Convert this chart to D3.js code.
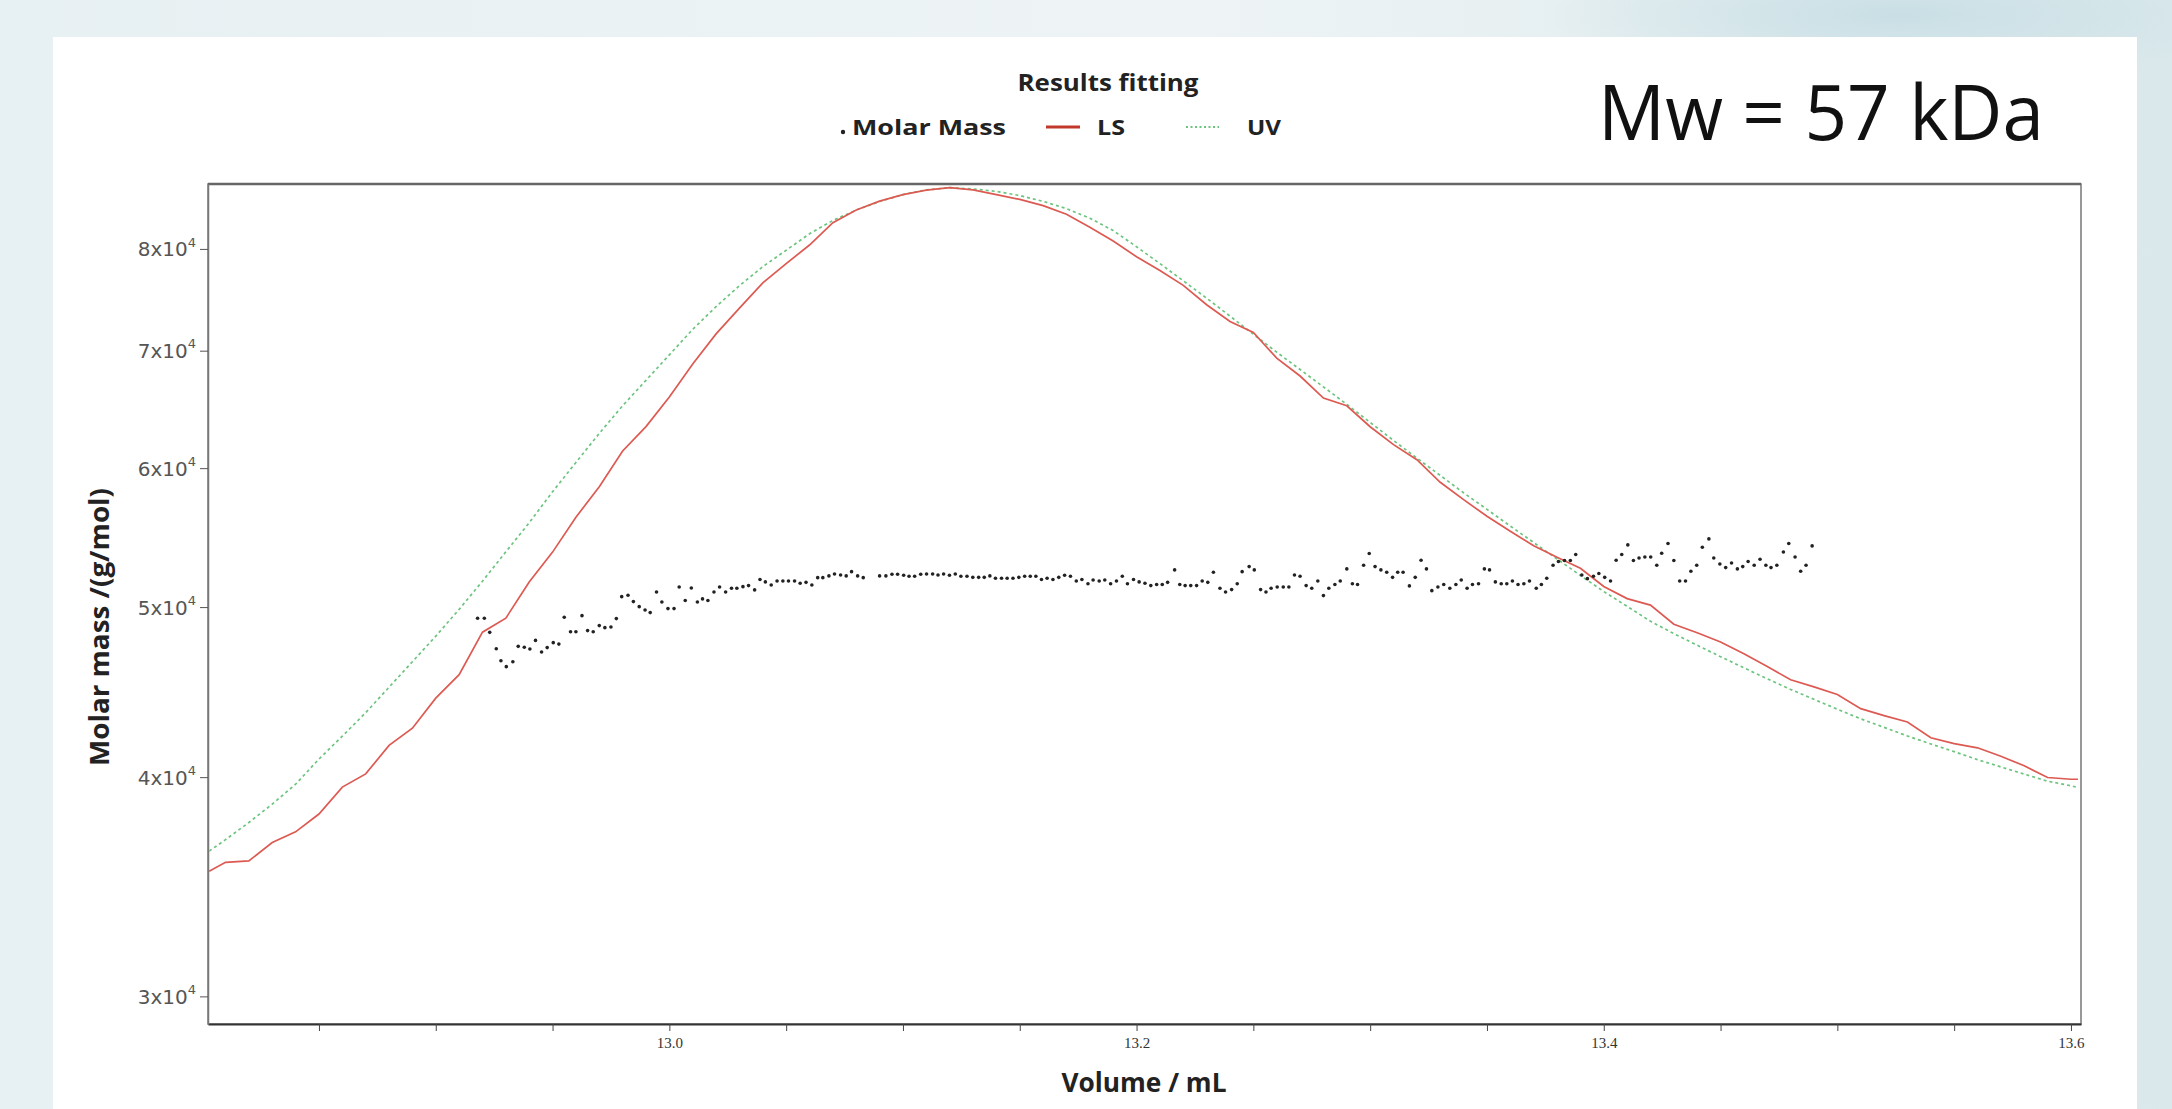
<!DOCTYPE html>
<html>
<head>
<meta charset="utf-8">
<script src="https://cdn.jsdelivr.net/npm/d3@7"></script>
<style>
  body { margin: 0; overflow: hidden; background: #fff; }
</style>
</head>
<body>
<svg id="chart" width="2172" height="1109"></svg>
<script>
// ---- data ----
const curveVolume = [12.803, 12.81, 12.82, 12.83, 12.84, 12.85, 12.86, 12.87, 12.88, 12.89,
  12.90, 12.91, 12.92, 12.93, 12.94, 12.95, 12.96, 12.97, 12.98, 12.99,
  13.00, 13.01, 13.02, 13.03, 13.04, 13.05, 13.06, 13.07, 13.08, 13.09,
  13.10, 13.11, 13.12, 13.13, 13.14, 13.15, 13.16, 13.17, 13.18, 13.19,
  13.20, 13.21, 13.22, 13.23, 13.24, 13.25, 13.26, 13.27, 13.28, 13.29,
  13.30, 13.31, 13.32, 13.33, 13.34, 13.35, 13.36, 13.37, 13.38, 13.39,
  13.40, 13.41, 13.42, 13.43, 13.44, 13.45, 13.46, 13.47, 13.48, 13.49,
  13.50, 13.51, 13.52, 13.53, 13.54, 13.55, 13.56, 13.57, 13.58, 13.59,
  13.60, 13.603];

const lsSignal = [35350, 35770, 35840, 36710, 37230, 38110, 39480, 40170, 41700, 42650,
  44370, 45760, 48380, 49280, 51670, 53740, 56260, 58550, 61370, 63360,
  65880, 68790, 71560, 74020, 76510, 78470, 80410, 82800, 84190, 85180,
  85910, 86410, 86700, 86450, 85910, 85370, 84680, 83720, 82300, 80840,
  79180, 77770, 76260, 74350, 72740, 71690, 69320, 67710, 65780, 65120,
  63350, 61880, 60670, 58900, 57570, 56330, 55230, 54190, 53380, 52610,
  51370, 50560, 50130, 48890, 48340, 47760, 47030, 46250, 45450, 45030,
  44580, 43760, 43360, 43000, 42120, 41800, 41570, 41110, 40600, 39980,
  39890, 39890];

const uvSignal = [36300, 36850, 37690, 38610, 39630, 40960, 42210, 43530, 45010, 46540,
  48130, 49850, 51730, 53760, 55850, 58170, 60450, 62800, 65120, 67330,
  69620, 71990, 74170, 76230, 78160, 79860, 81600, 83040, 84190, 85130,
  85910, 86450, 86690, 86550, 86270, 85800, 85150, 84340, 83290, 81950,
  80230, 78480, 76720, 74990, 73250, 71530, 69860, 68290, 66750, 65240,
  63710, 62220, 60800, 59430, 58090, 56840, 55610, 54420, 53260, 52120,
  51030, 50050, 49080, 48290, 47560, 46850, 46170, 45510, 44880, 44300,
  43730, 43180, 42700, 42220, 41780, 41360, 40930, 40540, 40160, 39790,
  39550, 39460];

const massVolume = [12.9179, 12.9208, 12.9231, 12.9259, 12.9279, 12.9302, 12.9330, 12.9353, 12.9379, 12.9403,
  12.9427, 12.9453, 12.9477, 12.9503, 12.9527, 12.9550, 12.9577, 12.9600, 12.9626, 12.9650,
  12.9674, 12.9700, 12.9724, 12.9750, 12.9773, 12.9796, 12.9823, 12.9846, 12.9871, 12.9896,
  12.9918, 12.9945, 12.9968, 12.9994, 13.0020, 13.0042, 13.0068, 13.0094, 13.0120, 13.0142,
  13.0165, 13.0191, 13.0215, 13.0241, 13.0266, 13.0289, 13.0315, 13.0339, 13.0365, 13.0388,
  13.0411, 13.0436, 13.0461, 13.0486, 13.0510, 13.0536, 13.0560, 13.0585, 13.0610, 13.0635,
  13.0657, 13.0683, 13.0707, 13.0733, 13.0757, 13.0780, 13.0806, 13.0830, 13.0900, 13.0927,
  13.0953, 13.0977, 13.1003, 13.1026, 13.1050, 13.1076,
  13.1101, 13.1127, 13.1150, 13.1174, 13.1199, 13.1224, 13.1248, 13.1274, 13.1299, 13.1324,
  13.1348, 13.1372, 13.1396, 13.1422, 13.1446, 13.1471, 13.1496, 13.1521, 13.1545, 13.1569,
  13.1593, 13.1617, 13.1642, 13.1667, 13.1692, 13.1717, 13.1742, 13.1766, 13.1792, 13.1814,
  13.1840, 13.1864, 13.1889, 13.1914, 13.1939, 13.1961, 13.1987, 13.2011, 13.2036, 13.2061,
  13.2086, 13.2110, 13.2133, 13.2163, 13.2185, 13.2208, 13.2232, 13.2257, 13.2281, 13.2305,
  13.2329, 13.2357, 13.2381, 13.2407, 13.2431, 13.2452, 13.2482, 13.2504, 13.2531, 13.2554,
  13.2576, 13.2602, 13.2628, 13.2652, 13.2676, 13.2700, 13.2726, 13.2750, 13.2776, 13.2800,
  13.2823, 13.2849, 13.2872, 13.2900, 13.2924, 13.2946, 13.2972, 13.2996,
  13.3021, 13.3046, 13.3071, 13.3096, 13.3118, 13.3141, 13.3168, 13.3193, 13.3218, 13.3241,
  13.3264, 13.3290, 13.3315, 13.3341, 13.3367, 13.3390, 13.3415, 13.3438, 13.3464, 13.3489,
  13.3511, 13.3536, 13.3561, 13.3585, 13.3609, 13.3633, 13.3658, 13.3682, 13.3711, 13.3733,
  13.3756, 13.3783, 13.3806, 13.3832, 13.3857, 13.3880, 13.3906, 13.3930, 13.3956, 13.3979,
  13.4004, 13.4029, 13.4053, 13.4077, 13.4103, 13.4127, 13.4151, 13.4176, 13.4201, 13.4227,
  13.4248, 13.4275, 13.4300, 13.4325, 13.4350, 13.4373, 13.4398, 13.4422, 13.4450, 13.4471,
  13.4497, 13.4522, 13.4547, 13.4572, 13.4595, 13.4618, 13.4644, 13.4669, 13.4694, 13.4716,
  13.4741, 13.4769, 13.4792, 13.4819, 13.4843, 13.4866, 13.4892];

const molarMass = [49270, 49270, 48370, 47340, 46600, 46240, 46540, 47490, 47430, 47320,
  47860, 47140, 47410, 47720, 47630, 49340, 48410, 48410, 49440, 48480,
  48410, 48800, 48670, 48710, 49250, 50690, 50780, 50360, 50030, 49810,
  49640, 51000, 50340, 49900, 49900, 51340, 50430, 51270, 50340, 50540,
  50430, 51000, 51340, 51000, 51250, 51250, 51360, 51430, 51140, 51840,
  51680, 51470, 51740, 51740, 51740, 51740, 51590, 51650, 51470, 51970,
  51970, 52090, 52220, 52150, 52090, 52380, 52090, 51970, 52090, 52090,
  52200, 52200, 52130, 52060, 52060, 52200,
  52220, 52220, 52150, 52220, 52130, 52220, 52060, 52060, 51990, 51990,
  51990, 52090, 51930, 51930, 51930, 51930, 51990, 52060, 52060, 52060,
  51840, 51930, 51840, 51990, 52130, 52060, 51740, 51840, 51560, 51810,
  51740, 51810, 51560, 51740, 52060, 51560, 51840, 51680, 51590, 51430,
  51500, 51500, 51650, 52500, 51500, 51430, 51430, 51430, 51740, 51650,
  52340, 51250, 51000, 51160, 51560, 52380, 52730, 52500, 51160, 51000,
  51250, 51340, 51340, 51340, 52150, 52060, 51430, 51250, 51740, 50760,
  51250, 51500, 51740, 52570, 51560, 51500, 52820, 53640,
  52730, 52500, 52340, 51990, 52340, 52340, 51410, 51990, 53170, 52570,
  51090, 51340, 51500, 51250, 51500, 51810, 51250, 51500, 51560, 52570,
  52500, 51680, 51560, 51560, 51740, 51500, 51560, 51740, 51250, 51500,
  51930, 52820, 53080, 53150, 53150, 53570, 52150, 51900, 52060, 52250,
  51990, 51740, 53170, 53570, 54250, 53150, 53330, 53400, 53400, 52820,
  53660, 54350, 53150, 51740, 51740, 52410, 52820, 54080, 54680, 53330,
  52910, 52660, 52980, 52570, 52730, 53080, 52820, 53240, 52820, 52660,
  52820, 53750, 54350, 53400, 52410, 52820, 54180];

const yTickValues = [30000, 40000, 50000, 60000, 70000, 80000];
const yTickMantissa = ["3", "4", "5", "6", "7", "8"];
const xTickValues = [12.85, 12.90, 12.95, 13.00, 13.05, 13.10, 13.15, 13.20,
  13.25, 13.30, 13.35, 13.40, 13.45, 13.50, 13.55, 13.60];
const xTickLabels = { "13.00": "13.0", "13.20": "13.2", "13.40": "13.4", "13.60": "13.6" };

// ---- layout ----
const W = 2172, H = 1109;
const plot = { left: 208, top: 184, right: 2081, bottom: 1024 };
const svg = d3.select("#chart");
const defs = svg.append("defs");

// stretch a text to a measured width
function fit(sel, w) {
  sel.attr("textLength", w).attr("lengthAdjust", "spacingAndGlyphs");
}

// slide-like background
const bg = defs.append("linearGradient").attr("id", "bg")
  .attr("x1", 0).attr("y1", 0).attr("x2", 1).attr("y2", 0);
bg.append("stop").attr("offset", "0%").attr("stop-color", "#e7f0f2");
bg.append("stop").attr("offset", "55%").attr("stop-color", "#eef4f5");
bg.append("stop").attr("offset", "100%").attr("stop-color", "#dae8eb");
svg.append("rect").attr("width", W).attr("height", H).attr("fill", "url(#bg)");

const glow = defs.append("radialGradient").attr("id", "glow")
  .attr("cx", 0.5).attr("cy", 0.5).attr("r", 0.5);
glow.append("stop").attr("offset", "0%").attr("stop-color", "#c9dfe5");
glow.append("stop").attr("offset", "100%").attr("stop-color", "#c9dfe5").attr("stop-opacity", 0);
svg.append("ellipse").attr("cx", 1900).attr("cy", 15).attr("rx", 360).attr("ry", 70)
  .attr("fill", "url(#glow)");

// white panel
svg.append("rect").attr("x", 53).attr("y", 37).attr("width", 2084).attr("height", H - 37)
  .attr("fill", "#fff");

// ---- scales ----
const x = d3.scaleLinear().domain([12.8025, 13.6043]).range([plot.left, plot.right]);
const y = d3.scaleLog().domain([28932, 87113]).range([plot.bottom, plot.top]);

defs.append("clipPath").attr("id", "clip")
  .append("rect")
  .attr("x", plot.left).attr("y", plot.top)
  .attr("width", plot.right - plot.left).attr("height", plot.bottom - plot.top);

// frame
svg.append("rect")
  .attr("x", plot.left).attr("y", plot.top)
  .attr("width", plot.right - plot.left).attr("height", plot.bottom - plot.top)
  .attr("fill", "none").attr("stroke", "#777").attr("stroke-width", 1.5);
svg.append("line")
  .attr("x1", plot.left).attr("x2", plot.right).attr("y1", plot.top).attr("y2", plot.top)
  .attr("stroke", "#666").attr("stroke-width", 2.5);

// ---- axes ----
const xAxis = svg.append("g")
  .attr("transform", `translate(0,${plot.bottom})`)
  .call(d3.axisBottom(x).tickValues(xTickValues).tickSize(7).tickSizeOuter(0).tickPadding(6)
    .tickFormat(d => xTickLabels[d.toFixed(2)] || ""));
xAxis.select(".domain").attr("stroke", "#333").attr("stroke-width", 2);
xAxis.selectAll(".tick line").attr("stroke", "#444");
xAxis.selectAll("text")
  .attr("font-family", "'Liberation Serif', serif").attr("font-size", 15).attr("fill", "#333");

const yAxis = svg.append("g")
  .attr("transform", `translate(${plot.left},0)`)
  .call(d3.axisLeft(y).tickValues(yTickValues).tickSize(8).tickSizeOuter(0).tickPadding(4)
    .tickFormat(""));
yAxis.select(".domain").attr("stroke", "#777").attr("stroke-width", 1.5);
yAxis.selectAll(".tick line").attr("stroke", "#555");
yAxis.selectAll(".tick text").each(function (d, i) {
  const t = d3.select(this)
    .attr("font-family", "'DejaVu Sans', sans-serif").attr("font-size", 20)
    .attr("fill", "#555").attr("dy", "0.35em");
  t.append("tspan").text(yTickMantissa[i] + "x10");
  t.append("tspan").attr("font-size", 13).attr("dy", "-0.75em").text("4");
});

// ---- series ----
const g = svg.append("g").attr("clip-path", "url(#clip)");

const curve = d3.line().x((d, i) => x(curveVolume[i])).y(d => y(d));
g.append("path").datum(uvSignal)
  .attr("d", curve)
  .attr("fill", "none").attr("stroke", "#6cc47f").attr("stroke-width", 1.7)
  .attr("stroke-dasharray", "3,3");

g.append("path").datum(lsSignal)
  .attr("d", curve)
  .attr("fill", "none").attr("stroke", "#dc5a52").attr("stroke-width", 1.7);

g.append("g").selectAll("circle")
  .data(molarMass)
  .join("circle")
  .attr("cx", (d, i) => x(massVolume[i]))
  .attr("cy", d => y(d))
  .attr("r", 1.8)
  .attr("fill", "#222");

// ---- texts ----
const bold = "'Open Sans', 'DejaVu Sans', sans-serif";

svg.append("text").attr("x", 1108).attr("y", 91).attr("text-anchor", "middle")
  .attr("font-family", bold).attr("font-weight", 700).attr("font-size", 23).attr("fill", "#222")
  .text("Results fitting").call(fit, 181);

// legend
svg.append("circle").attr("cx", 843).attr("cy", 132).attr("r", 2.2).attr("fill", "#222");
svg.append("text").attr("x", 852).attr("y", 135)
  .attr("font-family", bold).attr("font-weight", 700).attr("font-size", 22).attr("fill", "#222")
  .text("Molar Mass").call(fit, 154);
svg.append("line").attr("x1", 1046).attr("x2", 1080).attr("y1", 127).attr("y2", 127)
  .attr("stroke", "#c0392b").attr("stroke-width", 3);
svg.append("text").attr("x", 1097).attr("y", 135)
  .attr("font-family", bold).attr("font-weight", 700).attr("font-size", 22).attr("fill", "#222")
  .text("LS").call(fit, 28);
svg.append("line").attr("x1", 1186).attr("x2", 1219).attr("y1", 127).attr("y2", 127)
  .attr("stroke", "#6cc47f").attr("stroke-width", 2).attr("stroke-dasharray", "2,2.5");
svg.append("text").attr("x", 1247).attr("y", 135)
  .attr("font-family", bold).attr("font-weight", 700).attr("font-size", 22).attr("fill", "#222")
  .text("UV").call(fit, 34);

svg.append("text").attr("x", 1598).attr("y", 140)
  .attr("font-family", "'Open Sans', sans-serif").attr("font-size", 76).attr("fill", "#111")
  .text("Mw = 57 kDa").call(fit, 446);

svg.append("text")
  .attr("transform", "translate(109,627) rotate(-90)")
  .attr("text-anchor", "middle")
  .attr("font-family", bold).attr("font-weight", 700).attr("font-size", 26).attr("fill", "#222")
  .text("Molar mass /(g/mol)").call(fit, 278);

svg.append("text").attr("x", 1144).attr("y", 1092).attr("text-anchor", "middle")
  .attr("font-family", bold).attr("font-weight", 700).attr("font-size", 26).attr("fill", "#222")
  .text("Volume / mL").call(fit, 165);
</script>
</body>
</html>
